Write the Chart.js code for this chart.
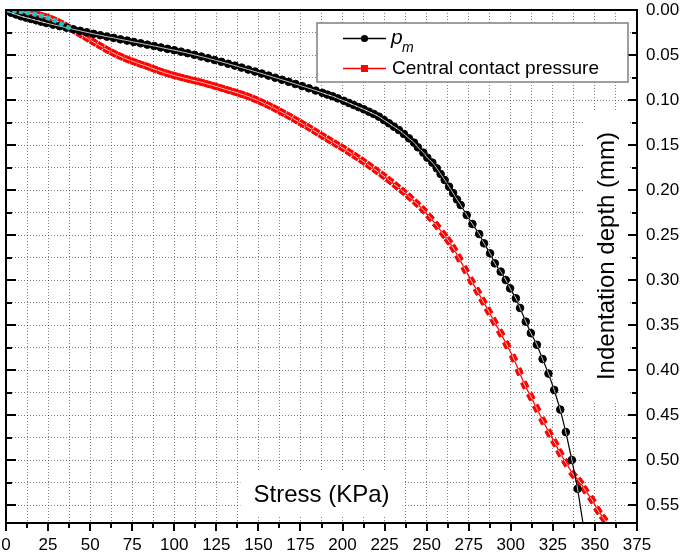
<!DOCTYPE html>
<html>
<head>
<meta charset="utf-8">
<script src="https://cdn.jsdelivr.net/npm/chart.js@4.4.1/dist/chart.umd.min.js"></script>
<style>
  html, body { margin: 0; padding: 0; background: #fff; }
</style>
</head>
<body>
<canvas id="chart" width="685" height="557"></canvas>
<script>
/* ---- Data ---- */

const xTickLabels = [0, 25, 50, 75, 100, 125, 150, 175, 200, 225, 250, 275, 300, 325, 350, 375];
const yTickLabels = ["0.00", "0.05", "0.10", "0.15", "0.20", "0.25", "0.30", "0.35", "0.40", "0.45", "0.50", "0.55"];

const pmStress = [
  0, 3, 6, 9, 12, 15, 18, 21, 24,
  28, 32, 36, 40, 44, 48, 52, 56, 60, 64, 68, 72, 76, 80, 84, 88, 92, 96, 100, 104,
  108, 112, 116, 120, 124, 128, 132, 136, 140, 144, 148, 152, 156, 160, 164, 168, 172, 176, 180, 184, 188,
  191, 194,
  197.2, 200.8, 203.8, 206.7, 209.7, 212.7, 215.7, 218.6, 221.6, 224.6,
  227.6, 230.5, 233.5, 236.5, 239.5, 242.5, 244.8, 248, 250.4, 253.4,
  256, 258.3, 260.7, 263.3, 265.7, 268, 270.2, 273.8, 277.2, 281.2,
  284.1, 287.7, 290.5, 294, 297, 299.6, 303, 305.5, 308.9, 311.9,
  315.5, 318.9, 322.4, 325.8, 329.4, 332.7, 336.3, 339.7, 343.3
];
const pmDepth = [
  0, 0.003, 0.005, 0.007, 0.0085, 0.01, 0.0115, 0.013, 0.0145,
  0.0163, 0.018, 0.0197, 0.0214, 0.0231, 0.0248, 0.0265, 0.028, 0.0296, 0.031, 0.0326, 0.034, 0.0356, 0.037, 0.0385, 0.04, 0.0416, 0.0432, 0.0447, 0.0463,
  0.048, 0.0498, 0.0517, 0.0536, 0.0556, 0.0576, 0.0597, 0.0618, 0.064, 0.0662, 0.0684, 0.0706, 0.0729, 0.0752, 0.0775, 0.0798, 0.0822, 0.0846, 0.087, 0.0895, 0.092,
  0.094, 0.0958,
  0.0982, 0.1009, 0.1033, 0.1056, 0.108, 0.1104, 0.113, 0.1155, 0.1185, 0.1222,
  0.1259, 0.1296, 0.1333, 0.1378, 0.1426, 0.1474, 0.1526, 0.1585, 0.1641, 0.1696,
  0.1759, 0.1822, 0.1889, 0.1963, 0.2035, 0.2105, 0.2167, 0.2278, 0.2378, 0.2489,
  0.2593, 0.2704, 0.2815, 0.2907, 0.3, 0.3093, 0.3204, 0.3311, 0.3463, 0.359,
  0.372, 0.3878, 0.404, 0.4222, 0.444, 0.469, 0.5, 0.532, 0.575
];

const centralStress = [
  0, 4, 8, 12, 16, 20, 24, 28, 32, 36, 40, 44, 48, 52, 56, 60, 64, 68, 72, 76,
  80, 84, 88, 92, 96, 100, 104, 108, 112, 116, 120, 124, 128, 132, 136, 140, 144, 148, 152, 156,
  160, 164, 168, 172, 176, 180, 184, 188, 192, 196, 200,
  204, 208, 212, 216, 220, 224, 228, 232, 236, 240, 244, 248, 252, 256, 260,
  263, 266,
  269.2, 272.9, 276.6, 280.2, 283.5, 286.8, 290.1, 294, 297.6, 301.6,
  305, 308.3, 311.9, 315.4, 319.1, 322.8, 326.2, 329.2, 332.7, 337,
  341, 344, 348.2, 351.8, 355.2
];
const centralDepth = [
  0, 0.0008, 0.0017, 0.0028, 0.004, 0.0056, 0.0078, 0.0106, 0.014, 0.018, 0.0222, 0.0266, 0.031, 0.0355, 0.0398, 0.0441, 0.048, 0.0515, 0.0547, 0.0575,
  0.0602, 0.0627, 0.0655, 0.0682, 0.0706, 0.0728, 0.0748, 0.0767, 0.0785, 0.0803, 0.0824, 0.0845, 0.0867, 0.089, 0.0912, 0.0936, 0.0962, 0.0992, 0.1025, 0.106,
  0.1097, 0.1137, 0.1177, 0.122, 0.1263, 0.1306, 0.1352, 0.1398, 0.1443, 0.1488, 0.1532,
  0.158, 0.1628, 0.1678, 0.173, 0.1783, 0.1838, 0.1895, 0.1955, 0.2016, 0.208, 0.2148, 0.222, 0.2305, 0.2395, 0.2492,
  0.2565, 0.265,
  0.2755, 0.2885, 0.301, 0.3125, 0.3235, 0.3345, 0.346, 0.359, 0.372, 0.3867,
  0.4019, 0.4167, 0.4296, 0.4426, 0.4565, 0.47, 0.481, 0.492, 0.503, 0.516,
  0.524, 0.533, 0.544, 0.556, 0.565
];

// small cyan markers sitting on the start of the curves
const cyanStress = [1, 5, 9, 13, 17, 21, 25, 29, 33, 37];
const cyanDepth = [0.0003, 0.001, 0.002, 0.0032, 0.0047, 0.0066, 0.009, 0.0119, 0.0155, 0.0195];

/* ---- Helpers ---- */

const FONT = '"Liberation Sans", Arial, Helvetica, sans-serif';
Chart.defaults.font.family = FONT;
Chart.defaults.color = "#000";

const toPoints = (xs, ys) => xs.map((x, i) => ({ x, y: ys[i] }));

const isMajorX = (v) => xTickLabels.includes(Math.round(v * 10) / 10);
const yLabel = (v) => (Math.round(v * 1000) / 1000).toFixed(2);
const isMajorY = (v) => yTickLabels.includes(yLabel(v));

/** Angle of the curve (in pixels) at a point, so markers follow the line. */
const curveAngle = (ctx) => {
  const data = ctx.dataset && ctx.dataset.data;
  const i = ctx.dataIndex;
  if (!data || i === undefined) return 0;
  const a = data[Math.max(i - 1, 0)];
  const b = data[Math.min(i + 1, data.length - 1)];
  const xs = ctx.chart.scales.x, ys = ctx.chart.scales.y;
  const dx = xs.getPixelForValue(b.x) - xs.getPixelForValue(a.x);
  const dy = ys.getPixelForValue(b.y) - ys.getPixelForValue(a.y);
  return (Math.atan2(dy, dx) * 180) / Math.PI;
};

/** Fix the axis boxes so the plot area lands where the reference has it. */
const fixBox = (size) => (scale) => {
  if (scale.isHorizontal()) scale.height = size;
  else scale.width = size;
  scale.paddingLeft = 0;
  scale.paddingRight = 0;
  scale.paddingTop = 0;
  scale.paddingBottom = 0;
};

const gridColor = "rgba(0, 0, 0, 0.5)";

/* ---- Plugin: axis titles inside the plot, frame, ticks, legend ---- */

const decorations = {
  id: "decorations",
  beforeDatasetsDraw(chart) {
    const { ctx, chartArea: ca } = chart;
    ctx.save();
    ctx.font = `24px ${FONT}`;
    ctx.fillStyle = "#000";

    // "Stress (KPa)" sitting inside the bottom of the plot
    const sTxt = "Stress (KPa)";
    const sw = ctx.measureText(sTxt).width;
    const sx = (ca.left + ca.right) / 2;
    const sBase = ca.bottom - 21;
    ctx.fillStyle = "#fff";
    ctx.fillRect(sx - sw / 2 - 13, sBase - 32, sw + 26, 45);
    ctx.fillStyle = "#000";
    ctx.textAlign = "center";
    ctx.textBaseline = "alphabetic";
    ctx.fillText(sTxt, sx, sBase);

    // "Indentation depth (mm)" rotated, inside the right edge
    const yTxt = "Indentation depth (mm)";
    const yw = ctx.measureText(yTxt).width;
    const yBase = ca.right - 23;
    const yc = 256;
    ctx.fillStyle = "#fff";
    ctx.fillRect(yBase - 29, yc - yw / 2 - 22, 45, yw + 44);
    ctx.fillStyle = "#000";
    ctx.translate(yBase, yc);
    ctx.rotate(-Math.PI / 2);
    ctx.fillText(yTxt, 0, 0);
    ctx.restore();
  },
  afterDatasetsDraw(chart) {
    const { ctx, chartArea: ca } = chart;
    const xs = chart.scales.x, ys = chart.scales.y;
    ctx.save();
    ctx.strokeStyle = "#000";
    ctx.lineWidth = 2;
    ctx.strokeRect(ca.left, ca.top, ca.right - ca.left, ca.bottom - ca.top);

    ctx.beginPath();
    xs.ticks.forEach((t, i) => {
      const px = Math.round(xs.getPixelForTick(i));
      const len = isMajorX(t.value) ? 8 : 5;
      ctx.moveTo(px, ca.bottom);
      ctx.lineTo(px, ca.bottom + len);
    });
    ys.ticks.forEach((t, i) => {
      const py = Math.round(ys.getPixelForTick(i));
      const major = isMajorY(t.value);
      ctx.moveTo(ca.right, py);
      ctx.lineTo(ca.right - (major ? 9 : 5), py);
      ctx.moveTo(ca.left, py);
      ctx.lineTo(ca.left + (major ? 10 : 6), py);
    });
    ctx.stroke();

    // legend box
    const box = { l: 317, t: 23, r: 628, b: 82 };
    ctx.fillStyle = "#fff";
    ctx.fillRect(box.l, box.t, box.r - box.l, box.b - box.t);
    ctx.strokeStyle = "#7f7f7f";
    ctx.lineWidth = 1.5;
    ctx.strokeRect(box.l, box.t, box.r - box.l, box.b - box.t);

    const rows = [
      { y: 38.5, color: "#000", marker: "circle" },
      { y: 68.5, color: "#ff0000", marker: "rect" },
    ];
    rows.forEach((row) => {
      ctx.strokeStyle = row.color;
      ctx.fillStyle = row.color;
      ctx.lineWidth = 1.3;
      ctx.beginPath();
      ctx.moveTo(343, row.y);
      ctx.lineTo(386, row.y);
      ctx.stroke();
      ctx.beginPath();
      if (row.marker === "circle") {
        ctx.arc(364.5, row.y, 3.6, 0, Math.PI * 2);
      } else {
        ctx.rect(361, row.y - 3.5, 7, 7);
      }
      ctx.fill();
    });

    ctx.fillStyle = "#000";
    ctx.textAlign = "left";
    ctx.textBaseline = "alphabetic";
    ctx.font = `italic 21px ${FONT}`;
    ctx.fillText("p", 391, 44);
    ctx.font = `italic 14px ${FONT}`;
    ctx.fillText("m", 402, 52);
    ctx.font = `19px ${FONT}`;
    ctx.fillText("Central contact pressure", 392, 74);
    ctx.restore();
  },
};

/* ---- Chart ---- */

new Chart(document.getElementById("chart"), {
  type: "scatter",
  data: {
    datasets: [
      {
        label: "cyan",
        data: toPoints(cyanStress, cyanDepth),
        showLine: false,
        pointStyle: "rect",
        pointRadius: 2.6,
        pointRotation: curveAngle,
        backgroundColor: "#22c4c4",
        borderColor: "#22c4c4",
        borderWidth: 1,
        order: 0,
      },
      {
        label: "pm stripe",
        data: toPoints(pmStress, pmDepth),
        showLine: false,
        pointStyle: "line",
        pointRadius: 3.6,
        pointRotation: curveAngle,
        borderColor: "rgba(255, 255, 255, 0.75)",
        pointBorderWidth: 1,
        order: 1,
      },
      {
        label: "p_m",
        data: toPoints(pmStress, pmDepth),
        showLine: true,
        borderColor: "#000",
        backgroundColor: "#000",
        borderWidth: 1.2,
        pointStyle: "circle",
        pointRadius: 3.8,
        pointBorderWidth: 1,
        order: 2,
      },
      {
        label: "central stripe",
        data: toPoints(centralStress, centralDepth),
        showLine: false,
        pointStyle: "line",
        pointRadius: 3.3,
        pointRotation: curveAngle,
        borderColor: "rgba(255, 215, 215, 0.9)",
        pointBorderWidth: 1,
        order: 3,
      },
      {
        label: "Central contact pressure",
        data: toPoints(centralStress, centralDepth),
        showLine: true,
        borderColor: "#ff0000",
        backgroundColor: "#ff0000",
        borderWidth: 1.2,
        pointStyle: "rect",
        pointRadius: 4.4,
        pointRotation: curveAngle,
        pointBorderWidth: 1,
        order: 4,
      },
    ],
  },
  options: {
    responsive: false,
    animation: false,
    events: [],
    layout: { padding: { top: 10, left: 6, right: 0, bottom: 0 } },
    plugins: {
      legend: { display: false },
      tooltip: { enabled: false },
    },
    scales: {
      x: {
        type: "linear",
        position: "bottom",
        min: 0,
        max: 375,
        afterFit: fixBox(34),
        grid: { color: gridColor, lineWidth: 1, drawTicks: false },
        border: { display: false, dash: [1, 2] },
        ticks: {
          stepSize: 12.5,
          autoSkip: false,
          maxRotation: 0,
          minRotation: 0,
          padding: 12,
          color: "#000",
          font: { size: 17 },
          callback: (v) => (isMajorX(v) ? String(Math.round(v)) : ""),
        },
      },
      y: {
        type: "linear",
        position: "right",
        reverse: true,
        min: 0,
        max: 0.57,
        afterFit: fixBox(48),
        grid: { color: gridColor, lineWidth: 1, drawTicks: false },
        border: { display: false, dash: [1, 2] },
        ticks: {
          stepSize: 0.025,
          includeBounds: false,
          autoSkip: false,
          padding: 9,
          color: "#000",
          font: { size: 17 },
          callback: (v) => (isMajorY(v) ? yLabel(v) : ""),
        },
      },
    },
  },
  plugins: [decorations],
});
</script>
</body>
</html>
